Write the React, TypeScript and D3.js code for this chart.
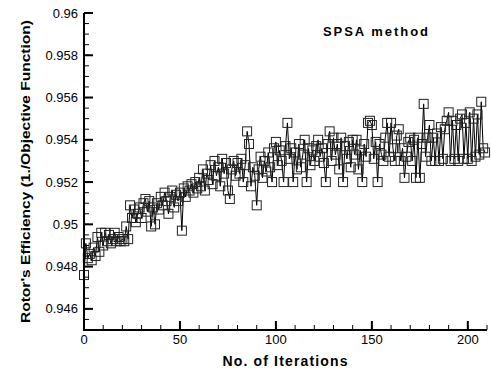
import React from "react";
import * as d3 from "d3";

const efficiency: number[] = [
  0.9476, 0.9491, 0.9484, 0.9486, 0.9483, 0.9489, 0.9485, 0.9494, 0.9487, 0.9496,
  0.9490, 0.9496, 0.9492, 0.9495, 0.9491, 0.9493, 0.9496, 0.9492, 0.9494, 0.9492,
  0.9493, 0.9492, 0.9499, 0.9493, 0.9509, 0.9503, 0.9507, 0.9501, 0.9505, 0.9508,
  0.9503, 0.9510, 0.9512, 0.9506, 0.9511, 0.9499, 0.9508, 0.9500, 0.9510, 0.9507,
  0.9513, 0.9509, 0.9515, 0.9511, 0.9505, 0.9513, 0.9516, 0.9508, 0.9514, 0.9511,
  0.9515, 0.9497, 0.9517, 0.9513, 0.9518, 0.9516, 0.9519, 0.9515, 0.9520, 0.9517,
  0.9522, 0.9518, 0.9526, 0.9516, 0.9524, 0.9521, 0.9528, 0.9519, 0.9530, 0.9523,
  0.9527, 0.9518, 0.9531, 0.9524, 0.9529, 0.9516, 0.9512, 0.9526, 0.9530, 0.9523,
  0.9529, 0.9524, 0.9531, 0.9520, 0.9528, 0.9544, 0.9538, 0.9518, 0.9527, 0.9523,
  0.9509, 0.9526, 0.9532, 0.9522, 0.9530, 0.9525, 0.9534, 0.9527, 0.9520, 0.9536,
  0.9539, 0.9528, 0.9535, 0.9530, 0.9520, 0.9537, 0.9548, 0.9531, 0.9536, 0.9520,
  0.9534, 0.9526, 0.9538, 0.9527, 0.9533, 0.9540, 0.9520, 0.9536, 0.9528, 0.9535,
  0.9530, 0.9537, 0.9540, 0.9532, 0.9536, 0.9529, 0.9520, 0.9538, 0.9544, 0.9530,
  0.9541, 0.9533, 0.9538, 0.9526, 0.9541, 0.9520, 0.9537, 0.9531, 0.9539, 0.9527,
  0.9540, 0.9533, 0.9540, 0.9526, 0.9535, 0.9520, 0.9538, 0.9532, 0.9548, 0.9549,
  0.9547, 0.9531, 0.9539, 0.9520, 0.9538, 0.9533, 0.9530, 0.9541, 0.9548, 0.9532,
  0.9548, 0.9536, 0.9530, 0.9542, 0.9545, 0.9530, 0.9536, 0.9522, 0.9532, 0.9539,
  0.9541, 0.9530, 0.9540, 0.9522, 0.9541, 0.9522, 0.9538, 0.9557, 0.9532, 0.9541,
  0.9547, 0.9530, 0.9541, 0.9530, 0.9543, 0.9530, 0.9546, 0.9531, 0.9545, 0.9549,
  0.9553, 0.9530, 0.9549, 0.9531, 0.9547, 0.9530, 0.9550, 0.9552, 0.9531, 0.9548,
  0.9531, 0.9553, 0.9530, 0.9550, 0.9532, 0.9552, 0.9533, 0.9558, 0.9536, 0.9534,
];

const xMajorTicks: number[] = [0, 50, 100, 150, 200];
const yMajorTicks: number[] = [0.946, 0.948, 0.95, 0.952, 0.954, 0.956, 0.958, 0.96];
const yTickLabels: string[] = ["0.946", "0.948", "0.95", "0.952", "0.954", "0.956", "0.958", "0.96"];

const FONT = "'Liberation Sans', Arial, Helvetica, sans-serif";

export default function App() {
  const W = 491;
  const H = 372;
  const x = d3.scaleLinear().domain([0, 210]).range([84, 487]);
  const y = d3.scaleLinear().domain([0.945, 0.96]).range([330, 13]);

  const pts = efficiency.map((v, i) => [i, v] as [number, number]);
  const line = d3
    .line<[number, number]>()
    .x((d) => x(d[0]))
    .y((d) => y(d[1]));

  const xMinor = d3.range(0, 211, 10);
  const yMinor = d3.range(0, 31).map((i) => 0.945 + i * 0.0005);
  const s = 9;

  return (
    <svg
      width={W}
      height={H}
      style={{ position: "absolute", left: 0, top: 0, background: "#fff" }}
      fontFamily={FONT}
    >
      <rect x={0} y={0} width={W} height={H} fill="#fff" />
      {/* data */}
      <path d={line(pts) || ""} fill="none" stroke="#000" strokeWidth={1} />
      {pts.map((d, i) => (
        <rect
          key={i}
          x={x(d[0]) - s / 2}
          y={y(d[1]) - s / 2}
          width={s}
          height={s}
          fill="none"
          stroke="#222"
          strokeWidth={1}
        />
      ))}

      {/* axes */}
      <line x1={x(0)} x2={x(0)} y1={y(0.96)} y2={y(0.945) + 1} stroke="#000" strokeWidth={2} />
      <line x1={x(0) - 1} x2={x(210)} y1={y(0.945)} y2={y(0.945)} stroke="#000" strokeWidth={2} />

      {yMinor.map((v, i) => (
        <line key={"ym" + i} x1={x(0)} x2={x(0) + 5} y1={y(v)} y2={y(v)} stroke="#000" strokeWidth={1} />
      ))}
      {yMajorTicks.map((v, i) => (
        <g key={"yM" + i}>
          <line x1={x(0)} x2={x(0) + 9} y1={y(v)} y2={y(v)} stroke="#000" strokeWidth={2} />
          <text x={78} y={y(v)} dy="0.35em" textAnchor="end" fontSize={13} fill="#000">
            {yTickLabels[i]}
          </text>
        </g>
      ))}

      {xMinor.map((v, i) => (
        <line key={"xm" + i} x1={x(v)} x2={x(v)} y1={y(0.945)} y2={y(0.945) - 5} stroke="#000" strokeWidth={1} />
      ))}
      {xMajorTicks.map((v, i) => (
        <g key={"xM" + i}>
          <line x1={x(v)} x2={x(v)} y1={y(0.945)} y2={y(0.945) - 9} stroke="#000" strokeWidth={2} />
          <text x={x(v)} y={344} textAnchor="middle" fontSize={13} fill="#000">
            {v}
          </text>
        </g>
      ))}

      <text
        x={285}
        y={366}
        textAnchor="middle"
        fontSize={14}
        fontWeight="bold"
        fill="#000"
        textLength={125}
        lengthAdjust="spacing"
      >
        No. of Iterations
      </text>
      <text
        transform={`translate(30,171.5) rotate(-90)`}
        textAnchor="middle"
        fontSize={13}
        fontWeight="bold"
        fill="#000"
        textLength={303}
        lengthAdjust="spacingAndGlyphs"
      >
        Rotor's Efficiency (1./Objective Function)
      </text>
      <text x={323} y={36} fontSize={13} fontWeight="bold" fill="#000" textLength={105} lengthAdjust="spacing">
        SPSA method
      </text>
    </svg>
  );
}
